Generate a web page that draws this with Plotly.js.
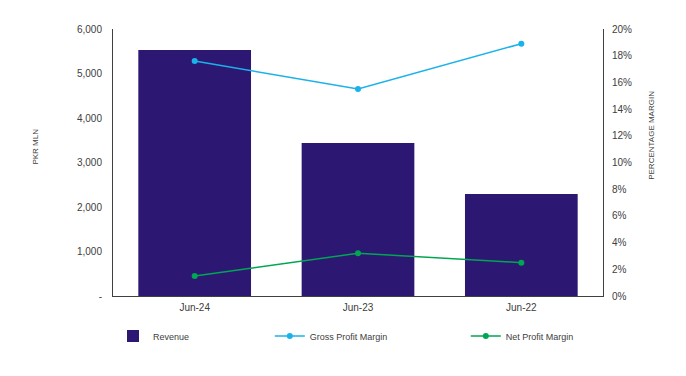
<!DOCTYPE html>
<html>
<head>
<meta charset="utf-8">
<script src="https://cdn.plot.ly/plotly-3.0.1.min.js"></script>
<style>html,body{margin:0;padding:0;background:#fff;}#chart{width:686px;height:376px;}</style>
</head>
<body>
<div id="chart"></div>
<script>
const categories = ['Jun-24', 'Jun-23', 'Jun-22'];
const revenue = [5530, 3440, 2290];
const grossProfitMargin = [17.6, 15.5, 18.9];
const netProfitMargin = [1.5, 3.2, 2.5];
const leftTickVals = [0, 1000, 2000, 3000, 4000, 5000, 6000];
const leftTickText = ['-', '1,000', '2,000', '3,000', '4,000', '5,000', '6,000'];

const FONT = 'Liberation Sans, Arial, sans-serif';
const TXT = '#404040';

const traces = [
  {type: 'bar', x: categories, y: revenue, name: 'Revenue',
   marker: {color: '#2C1873'}, legend: 'legend', hoverinfo: 'skip'},
  {type: 'scatter', mode: 'lines+markers', x: categories, y: grossProfitMargin,
   name: 'Gross Profit Margin', yaxis: 'y2', legend: 'legend2',
   line: {color: '#1AB2EA', width: 1.5}, marker: {color: '#1AB2EA', size: 6}},
  {type: 'scatter', mode: 'lines+markers', x: categories, y: netProfitMargin,
   name: 'Net Profit Margin', yaxis: 'y2', legend: 'legend3',
   line: {color: '#00A651', width: 1.5}, marker: {color: '#00A651', size: 6}}
];

const legendBase = {orientation: 'h', yanchor: 'middle', xanchor: 'left', y: -0.15,
  font: {family: FONT, size: 9, color: TXT}, bgcolor: 'rgba(0,0,0,0)'};

const layout = {
  width: 686, height: 376,
  margin: {l: 113, r: 83, t: 29, b: 80},
  paper_bgcolor: '#fff', plot_bgcolor: '#fff',
  font: {family: FONT, size: 10, color: TXT},
  bargap: 0.31,
  xaxis: {showline: true, linecolor: '#404040', linewidth: 1, ticks: '', showgrid: false,
    tickfont: {family: FONT, size: 10, color: TXT}, ticklabelstandoff: 2},
  yaxis: {range: [0, 6000], tickvals: leftTickVals, ticktext: leftTickText,
    showline: true, linecolor: '#404040', linewidth: 1, showgrid: false, zeroline: false,
    ticks: '', ticklabelstandoff: 8, tickfont: {family: FONT, size: 10, color: TXT}},
  yaxis2: {range: [0, 20], dtick: 2, ticksuffix: '%', overlaying: 'y', side: 'right',
    showline: true, linecolor: '#404040', linewidth: 1, showgrid: false, zeroline: false,
    ticks: '', ticklabelstandoff: 6, tickfont: {family: FONT, size: 10, color: TXT}},
  showlegend: true,
  legend: Object.assign({}, legendBase, {x: 0.0}),
  legend2: Object.assign({}, legendBase, {x: 0.32}),
  legend3: Object.assign({}, legendBase, {x: 0.72}),
  annotations: [
    {text: 'PKR MLN', xref: 'paper', yref: 'paper', x: -0.159, y: 0.56, textangle: -90,
     showarrow: false, xanchor: 'center', yanchor: 'middle', font: {family: FONT, size: 8, color: TXT}},
    {text: 'PERCENTAGE MARGIN', xref: 'paper', yref: 'paper', x: 1.1, y: 0.6, textangle: -90,
     showarrow: false, xanchor: 'center', yanchor: 'middle', font: {family: FONT, size: 8, color: TXT}}
  ]
};

Plotly.newPlot('chart', traces, layout, {displayModeBar: false, staticPlot: true});
</script>
</body>
</html>
